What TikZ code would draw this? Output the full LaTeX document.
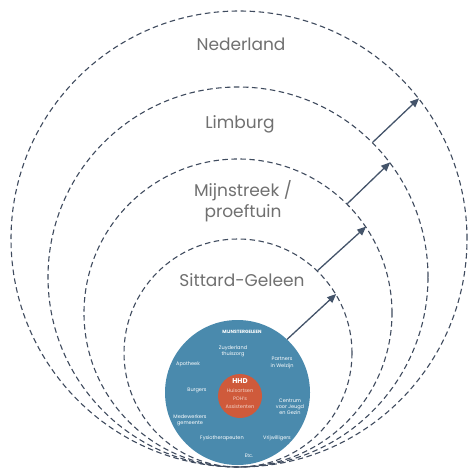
\documentclass[tikz,border=0pt]{standalone}
\usepackage{fontspec}
\setmainfont{Poppins}
\usetikzlibrary{arrows.meta}
\definecolor{dashc}{HTML}{3F4B5E}
\definecolor{arrc}{HTML}{44546A}
\definecolor{txtc}{HTML}{707070}
\definecolor{bluec}{HTML}{4A8AAD}
\definecolor{redc}{HTML}{CF5A3B}
\definecolor{pinkc}{HTML}{F3D3C8}
\begin{document}
\begin{tikzpicture}[x=1pt,y=-1pt,
 ring/.style={circle,draw=dashc,line width=1.1pt,dash pattern=on 5.5pt off 3.5pt,minimum size=#1,inner sep=0pt},
 lvl/.style={text=txtc,font=\fontsize{17}{21}\selectfont,align=center,inner sep=0pt},
 small/.style={text=white,font=\fontsize{5}{6.2}\selectfont,align=center,inner sep=0pt},
 arr/.style={draw=arrc,line width=1.3pt,-{Triangle[length=9pt,width=7.5pt]}}]
\useasboundingbox (0,0) rectangle (470,470);
\node[ring=456pt] (c4) at (239,239) {};
\node[ring=380pt] (c3) at (238,277) {};
\node[ring=308pt] (c2) at (238,313) {};
\node[ring=228pt] (c1) at (238,353) {};
\node[circle,fill=bluec,minimum size=145pt,inner sep=0pt] (blue) at (237.5,392.5) {};
\node[circle,fill=redc,minimum size=44pt,inner sep=0pt] (red) at (240,396) {};
% level labels
\node[lvl] (nl) at (241,44) {Nederland};
\node[lvl] (lb) at (240,124) {Limburg};
\node[lvl] (ms) at (243,201) {Mijnstreek /\\proeftuin};
\node[lvl] (sg) at (242,280) {Sittard-Geleen};
% blue circle texts
\node[small,font=\fontsize{4.6}{6}\selectfont\bfseries] (mg) at (242,332) {MIJNSTERGELEEN};
\node[small] (zt) at (233,351) {Zuyderland\\thuiszorg};
\node[small] (pw) at (282,363) {Partners\\in Welzijn};
\node[small] (ap) at (188,364) {Apotheek};
\node[small] (bu) at (197,390) {Burgers};
\node[small] (cj) at (290,407) {Centrum\\voor Jeugd\\en Gezin};
\node[small] (mw) at (190,420) {Medewerkers\\gemeente};
\node[small] (fy) at (222,438) {Fysiotherapeuten};
\node[small] (vr) at (277,438) {Vrijwilligers};
\node[small] (etc) at (249,456) {Etc.};
% red circle texts
\node[small,font=\fontsize{7}{8}\selectfont\bfseries] (hhd) at (240,381) {HHD};
\node[small,text=pinkc,font=\fontsize{5}{8}\selectfont] (ha) at (240,399) {Huisartsen\\POH's\\Assistenten};
% arrows
\draw[arr] (blue.47) -- (c1.31);
\draw[arr] (c1.46) -- (c2.34.5);
\draw[arr] (c2.45) -- (c3.37);
\draw[arr] (c3.45) -- (c4.38);
\end{tikzpicture}
\end{document}
